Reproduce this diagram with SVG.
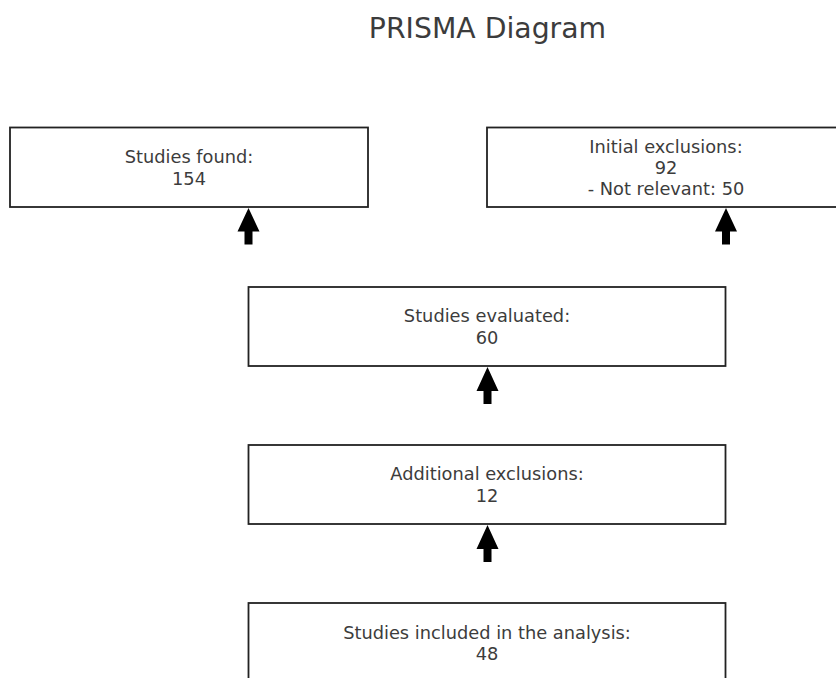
<svg xmlns="http://www.w3.org/2000/svg" width="836" height="678" viewBox="0 0 836 678">
<style>
.box{fill:#fff;stroke:#222;stroke-width:1.8}
.t{font-family:"DejaVu Sans",sans-serif;font-size:17.8px;fill:#3c3c3c;text-anchor:middle}
.title{font-family:"DejaVu Sans",sans-serif;font-size:28.3px;fill:#3c3c3c;text-anchor:middle}
.arr{fill:#000;stroke:none}
</style>
<rect width="836" height="678" fill="#fff"/>
<text class="title" x="487.5" y="37.5">PRISMA Diagram</text>
<g id="found">
<rect class="box" x="10" y="127.5" width="358" height="79.5"/>
<text class="t" x="189" y="163">Studies found:</text>
<text class="t" x="189" y="184.5">154</text>
</g>
<g id="initial">
<rect class="box" x="487" y="127.5" width="358" height="79.5"/>
<text class="t" x="666" y="152.5">Initial exclusions:</text>
<text class="t" x="666" y="173.5">92</text>
<text class="t" x="666" y="194.5">- Not relevant: 50</text>
</g>
<g id="evaluated">
<rect class="box" x="248.5" y="287" width="477" height="79"/>
<text class="t" x="487" y="322">Studies evaluated:</text>
<text class="t" x="487" y="343.5">60</text>
</g>
<g id="additional">
<rect class="box" x="248.5" y="445" width="477" height="79"/>
<text class="t" x="487" y="480">Additional exclusions:</text>
<text class="t" x="487" y="501.5">12</text>
</g>
<g id="included">
<rect class="box" x="248.5" y="603" width="477" height="79"/>
<text class="t" x="487" y="638.5">Studies included in the analysis:</text>
<text class="t" x="487" y="659.5">48</text>
</g>
<g id="connectors">
<polygon class="arr" points="248.5,208 259.5,231.5 252.5,231.5 252.5,244.5 244.5,244.5 244.5,231.5 237.5,231.5"/>
<polygon class="arr" points="726,208 737,231.5 730,231.5 730,244.5 722,244.5 722,231.5 715,231.5"/>
<polygon class="arr" points="487.5,367 498.5,391 491.5,391 491.5,404 483.5,404 483.5,391 476.5,391"/>
<polygon class="arr" points="487.5,525 498.5,549 491.5,549 491.5,562 483.5,562 483.5,549 476.5,549"/>
</g>
</svg>
